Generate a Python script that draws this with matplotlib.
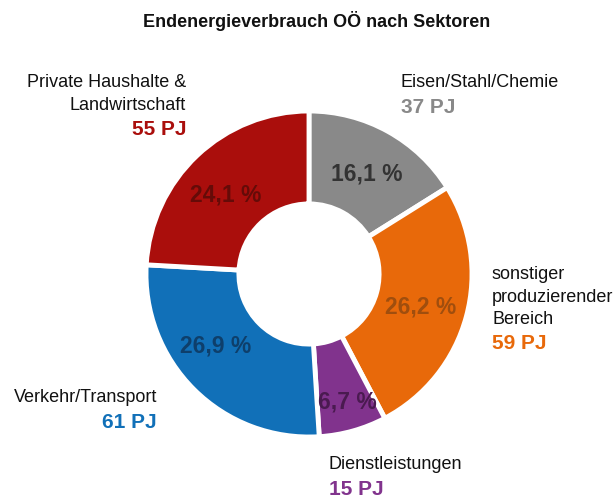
import numpy as np
import matplotlib.pyplot as plt

plt.rcParams['font.family'] = ['Liberation Sans', 'DejaVu Sans']

sectors = [['Eisen/Stahl/Chemie'],
           ['sonstiger', 'produzierender', 'Bereich'],
           ['Dienstleistungen'],
           ['Verkehr/Transport'],
           ['Private Haushalte &', 'Landwirtschaft']]
shares = [16.1, 26.2, 6.7, 26.9, 24.1]
pj = [37, 59, 15, 61, 55]
colors = ['#898989', '#E8690A', '#81338D', '#1170B8', '#AA0E0C']
text_colors = ['#333333', '#A04E0E', '#4A1A50', '#0E3F6B', '#650B08']

W, H = 614, 499
fig = plt.figure(figsize=(W / 100, H / 100), dpi=100)
ax = fig.add_axes([0, 0, 1, 1])

cx, cy, R = 309, H - 274, 163
wedges, _ = ax.pie(shares, colors=colors, startangle=90, counterclock=False,
                   center=(cx, cy), radius=R,
                   wedgeprops=dict(width=R * 0.57, edgecolor='white', linewidth=3.5))

# percent labels: small per-slice nudges (radius, angle in degrees)
lab_r = [116, 116, 134, 118, 115]
lab_da = [-1, -1.5, 1, -7.5, 3]
for w, s, tc, r, da in zip(wedges, shares, text_colors, lab_r, lab_da):
    ang = np.deg2rad((w.theta1 + w.theta2) / 2 + da)
    ax.text(cx + r * np.cos(ang), cy + r * np.sin(ang),
            f'{s:.1f} %'.replace('.', ','), ha='center', va='center',
            fontsize=16.5, fontweight='bold', color=tc)

# outer labels: x, baseline of first line, baseline of value, alignment
pos = [(401, 87, 113, 'left'), (492, 279, 349, 'left'), (329, 469, 495, 'left'),
       (157, 402, 428, 'right'), (186, 87, 135, 'right')]
line_h = 22.5
for lines, val, col, (x, y0, yv, ha) in zip(sectors, pj, colors, pos):
    for i, line in enumerate(lines):
        ax.text(x, H - (y0 + i * line_h), line, ha=ha, va='baseline',
                fontsize=13, color='#111111')
    ax.text(x, H - yv, f'{val} PJ', ha=ha, va='baseline',
            fontsize=15, fontweight='bold', color=col)

ax.text(317, H - 27, 'Endenergieverbrauch OÖ nach Sektoren', ha='center',
        va='baseline', fontsize=13, fontweight='bold', color='#111111')

ax.set_xlim(0, W)
ax.set_ylim(0, H)
ax.set_aspect('equal')
ax.axis('off')
fig.savefig('out.png', dpi=100)
